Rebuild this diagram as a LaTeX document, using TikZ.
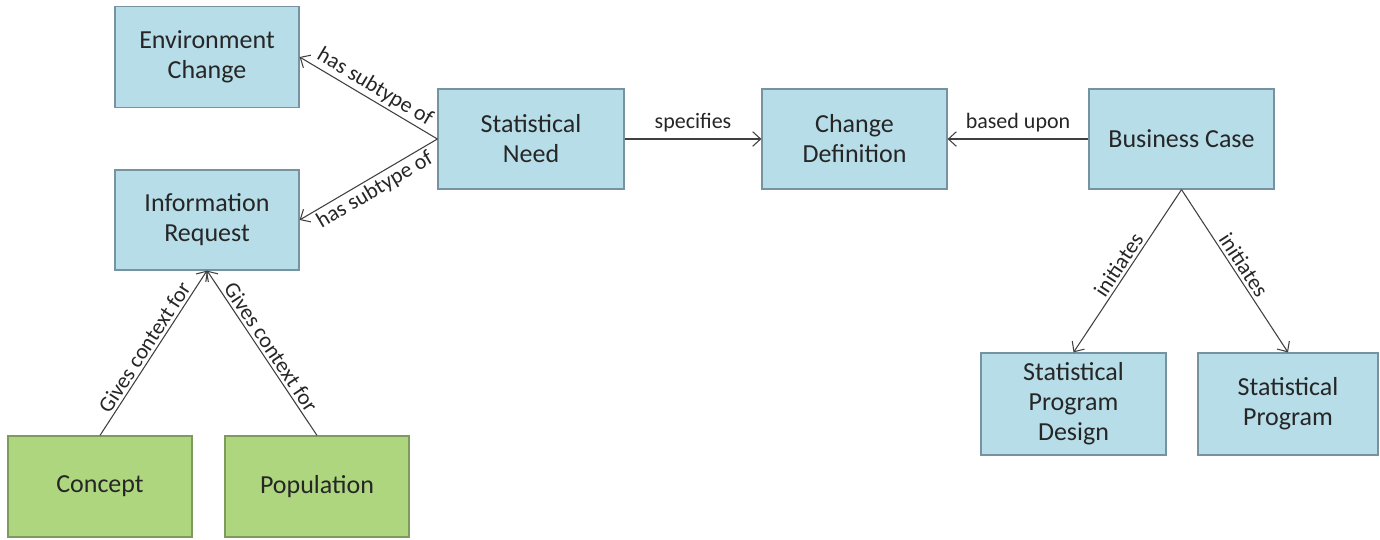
\documentclass[tikz,border=0pt]{standalone}
\usepackage{fontspec}
\setmainfont{Carlito}
\usetikzlibrary{arrows.meta}
\definecolor{boxblue}{HTML}{B6DDE8}
\definecolor{boxblueline}{HTML}{7593A0}
\definecolor{boxgreen}{HTML}{ADD67F}
\definecolor{boxgreenline}{HTML}{7E9A5E}
\definecolor{txt}{HTML}{262626}
\definecolor{conn}{HTML}{404040}
\tikzset{
  bluebox/.style={draw=boxblueline, fill=boxblue, line width=0.9pt, align=center,
    font=\fontsize{19.5pt}{22.5pt}\selectfont, text=txt, inner sep=0pt},
  greenbox/.style={bluebox, draw=boxgreenline, fill=boxgreen},
  conlink/.style={draw=conn, line width=0.8pt, -{Straight Barb[length=6pt,width=11pt,line width=0.8pt]}},
  lbl/.style={font=\fontsize{16.5pt}{19pt}\selectfont, text=txt, inner sep=2pt}
}
\begin{document}
\begin{tikzpicture}[x=0.75pt,y=-0.75pt]
\useasboundingbox (0,0) rectangle (1380,539);
\node[bluebox, minimum width=138pt, minimum height=75.5pt] (ec) at (207,57) {Environment\\Change};
\node[bluebox, minimum width=138pt, minimum height=75pt] (ir) at (207,220) {Information\\Request};
\node[bluebox, minimum width=139.5pt, minimum height=75pt] (sn) at (531,139) {Statistical\\Need};
\node[bluebox, minimum width=138.75pt, minimum height=75pt] (cd) at (854.5,139) {Change\\Definition};
\node[bluebox, minimum width=138.75pt, minimum height=75pt] (bc) at (1181.5,139) {Business Case};
\node[bluebox, minimum width=138.75pt, minimum height=76.5pt] (spd) at (1073.5,404) {Statistical\\Program\\Design};
\node[bluebox, minimum width=135pt, minimum height=76.5pt] (sp) at (1288,404) {Statistical\\Program};
\node[greenbox, minimum width=138pt, minimum height=75.75pt] (con) at (100,486.5) {Concept};
\node[greenbox, minimum width=138pt, minimum height=75.75pt] (pop) at (317,486.5) {Population};

\draw[conlink] (sn.west) -- node[lbl, midway, sloped, above] {has subtype of} (ec.east);
\draw[conlink] (sn.west) -- node[lbl, midway, sloped, below] {has subtype of} (ir.east);
\draw[conlink] (sn.east) -- node[lbl, midway, above, yshift=3pt] {specifies} (cd.west);
\draw[conlink] (bc.west) -- node[lbl, midway, above, yshift=3pt] {based upon} (cd.east);
\draw[conlink] (bc.south) -- node[lbl, midway, sloped, above] {initiates} (spd.north);
\draw[conlink] (bc.south) -- node[lbl, midway, sloped, above] {initiates} (sp.north);
\draw[conlink] (con.north) -- node[lbl, midway, sloped, above] {Gives context for} (ir.south);
\draw[conlink] (pop.north) -- node[lbl, midway, sloped, above] {Gives context for} (ir.south);
\end{tikzpicture}
\end{document}
